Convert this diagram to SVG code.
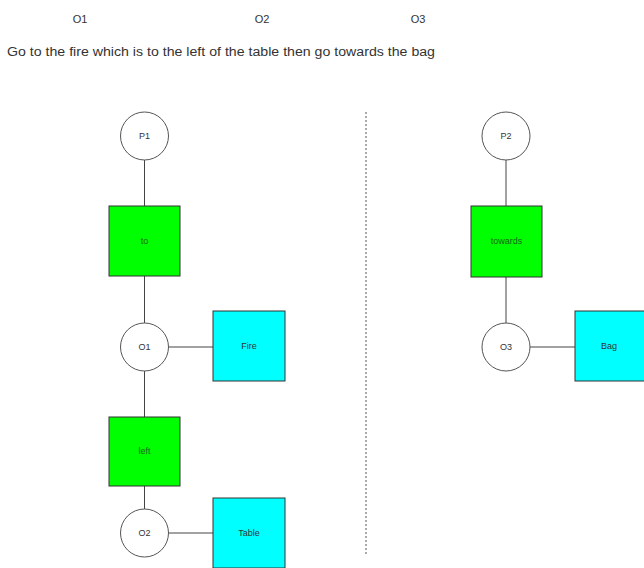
<svg xmlns="http://www.w3.org/2000/svg" width="644" height="568" viewBox="0 0 644 568">
<style>
text{font-family:"Liberation Sans",Arial,sans-serif;fill:#333;}
.lbl{font-size:9px;text-anchor:middle;dominant-baseline:central;}
.top{font-size:11px;text-anchor:middle;dominant-baseline:central;}
.circ{fill:#fff;stroke:#555;stroke-width:1;}
.rel{fill:#00ff00;stroke:#333;stroke-width:1;}
.obj{fill:#00ffff;stroke:#333;stroke-width:1;}
.edge{stroke:#444;stroke-width:1;fill:none;}
.gt{fill:#1a661a;}
</style>
<rect width="644" height="568" fill="#fff"/>
<text class="top" x="80" y="19">O1</text>
<text class="top" x="262" y="19">O2</text>
<text class="top" x="418" y="19">O3</text>
<text x="7" y="56" font-size="12.5" textLength="428" lengthAdjust="spacingAndGlyphs">Go to the fire which is to the left of the table then go towards the bag</text>
<g id="connectors">
<line class="edge" x1="144.5" y1="160" x2="144.5" y2="206"/>
<line class="edge" x1="144.5" y1="276" x2="144.5" y2="323"/>
<line class="edge" x1="168.5" y1="347" x2="213" y2="347"/>
<line class="edge" x1="144.5" y1="371" x2="144.5" y2="417"/>
<line class="edge" x1="144.5" y1="486" x2="144.5" y2="509"/>
<line class="edge" x1="168.5" y1="533" x2="213" y2="533"/>
<line class="edge" x1="506" y1="160" x2="506" y2="206"/>
<line class="edge" x1="506" y1="277" x2="506" y2="323"/>
<line class="edge" x1="530" y1="347" x2="575" y2="347"/>
<line x1="366" y1="112" x2="366" y2="556" stroke="#555" stroke-width="1" stroke-dasharray="2,2"/>
</g>
<g id="P1"><circle class="circ" cx="144.5" cy="136" r="24"/><text class="lbl" x="144.5" y="136">P1</text></g>
<g id="to"><rect class="rel" x="109" y="206" width="71" height="70"/><text class="lbl gt" x="144.5" y="241">to</text></g>
<g id="O1"><circle class="circ" cx="144.5" cy="347" r="24"/><text class="lbl" x="144.5" y="347">O1</text></g>
<g id="Fire"><rect class="obj" x="213" y="311" width="72" height="70"/><text class="lbl" x="249" y="346">Fire</text></g>
<g id="left"><rect class="rel" x="109" y="417" width="71" height="69"/><text class="lbl gt" x="144.5" y="451">left</text></g>
<g id="O2"><circle class="circ" cx="144.5" cy="533" r="24"/><text class="lbl" x="144.5" y="533">O2</text></g>
<g id="Table"><rect class="obj" x="213" y="498" width="72" height="70"/><text class="lbl" x="249" y="533">Table</text></g>
<g id="P2"><circle class="circ" cx="506" cy="136" r="24"/><text class="lbl" x="506" y="136">P2</text></g>
<g id="towards"><rect class="rel" x="471" y="206" width="71" height="71"/><text class="lbl gt" x="506.5" y="241">towards</text></g>
<g id="O3"><circle class="circ" cx="506" cy="347" r="24"/><text class="lbl" x="506" y="347">O3</text></g>
<g id="Bag"><rect class="obj" x="575" y="311" width="72" height="70"/><text class="lbl" x="609" y="346">Bag</text></g>
</svg>
